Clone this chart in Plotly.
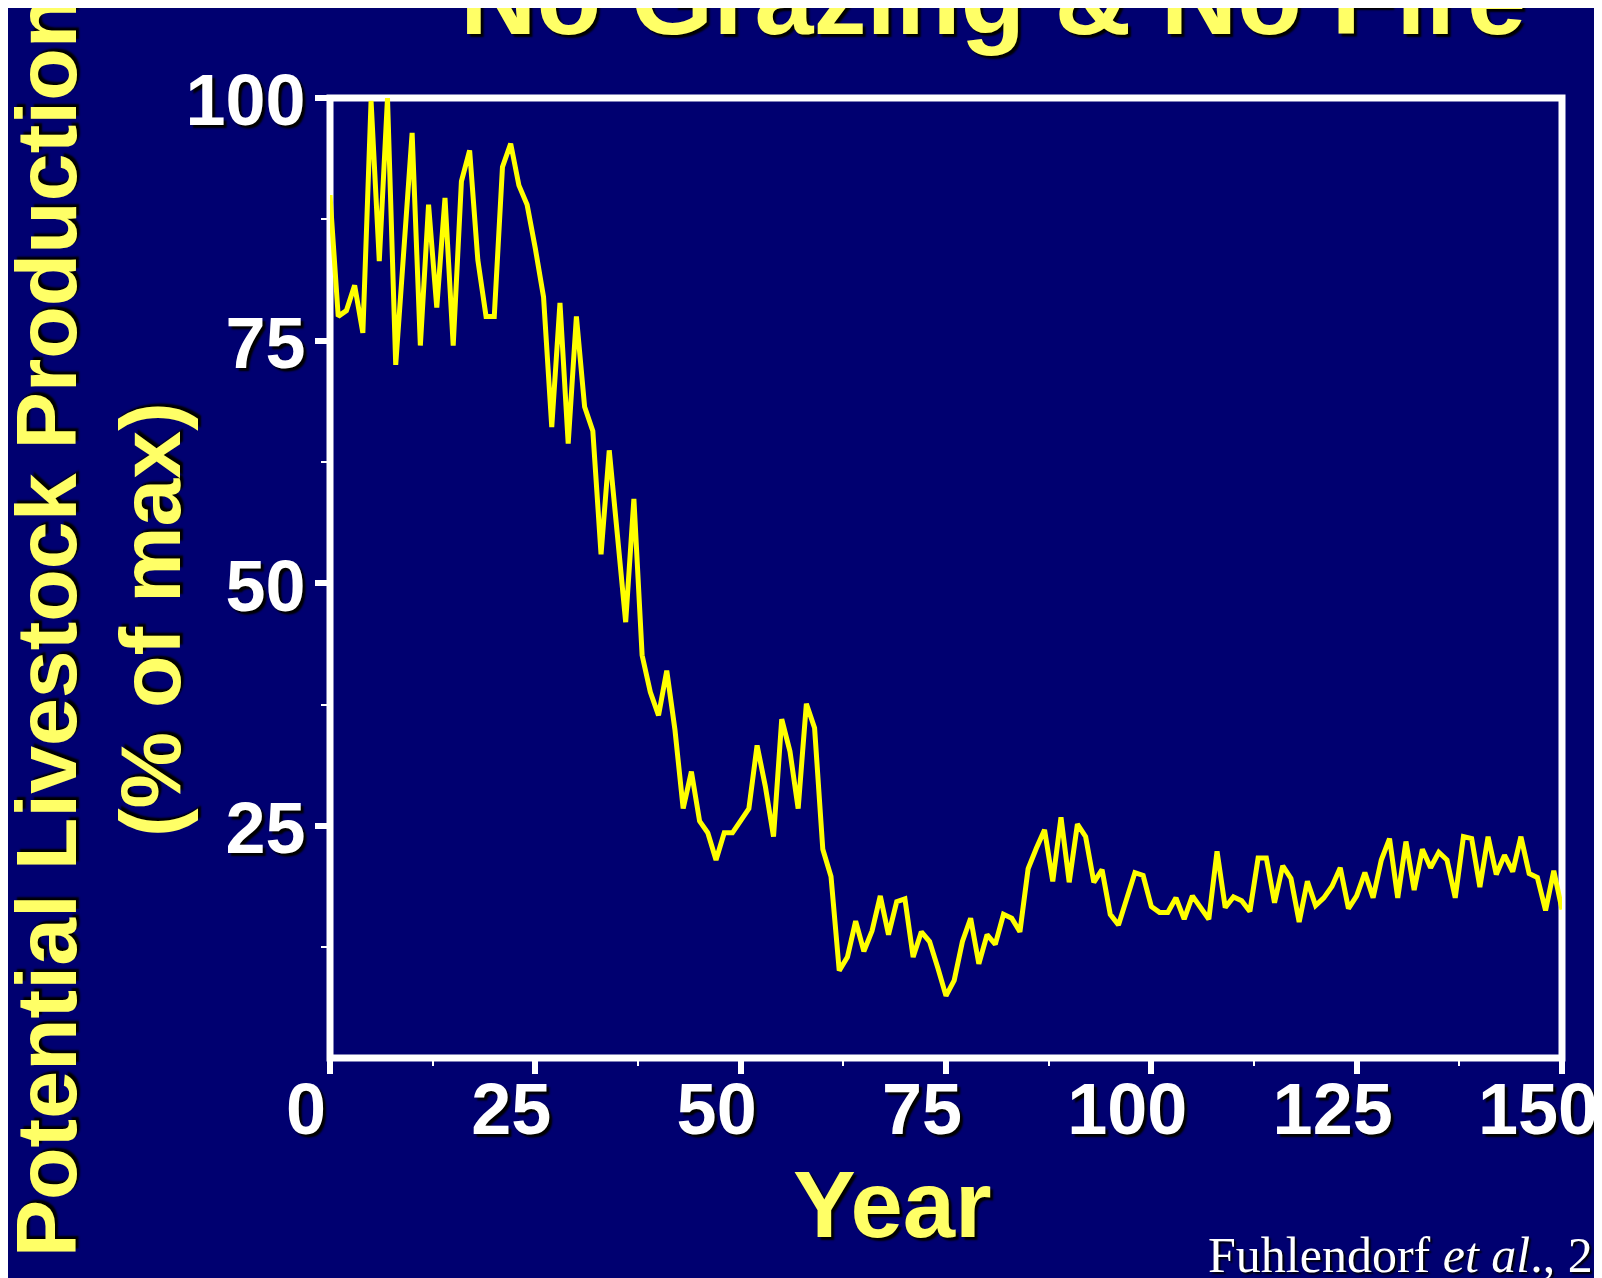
import plotly.graph_objects as go

years = list(range(0, 151))
production = [
    90.0, 77.5, 78.1, 80.7, 75.8, 99.7, 83.2, 100.0, 72.5, 84.5,
    96.4, 74.5, 89.0, 78.4, 89.7, 74.5, 91.4, 94.6, 83.3, 77.5,
    77.5, 92.9, 95.3, 91.0, 89.0, 84.5, 79.5, 66.1, 78.9, 64.4,
    77.5, 68.2, 65.7, 53.0, 63.7, 54.9, 46.0, 58.7, 42.6, 38.8,
    36.4, 41.0, 34.9, 26.8, 30.6, 25.5, 24.3, 21.5, 24.3, 24.3,
    25.5, 26.8, 33.3, 29.1, 23.9, 36.0, 32.7, 26.8, 37.6, 35.1,
    22.6, 19.8, 10.1, 11.5, 15.2, 12.1, 14.2, 17.8, 13.8, 17.2,
    17.5, 11.5, 14.1, 13.1, 10.4, 7.5, 9.1, 13.1, 15.5, 10.8,
    13.8, 12.8, 15.9, 15.5, 14.1, 20.6, 22.7, 24.6, 19.3, 25.9,
    19.2, 25.2, 23.9, 19.2, 20.5, 15.9, 14.8, 17.7, 20.2, 19.9,
    16.7, 16.1, 16.1, 17.6, 15.4, 17.8, 16.6, 15.4, 22.4, 16.6,
    17.7, 17.3, 16.2, 21.7, 21.7, 17.1, 20.9, 19.6, 15.1, 19.3,
    16.8, 17.6, 18.8, 20.7, 16.5, 17.8, 20.2, 17.6, 21.5, 23.7,
    17.6, 23.4, 18.4, 22.6, 20.7, 22.3, 21.5, 17.6, 23.9, 23.7,
    18.7, 23.9, 20.0, 22.0, 20.3, 23.9, 20.1, 19.7, 16.3, 20.4,
    16.4,
]
x_ticks = [0, 25, 50, 75, 100, 125, 150]
y_ticks = [25, 50, 75, 100]

title_text = "No Grazing &amp; No Fire"
ytitle_line1 = "Potential Livestock Production"
ytitle_line2 = "(% of max)"
xtitle_text = "Year"
source_text = "Fuhlendorf <i>et al</i>., 2009"

BG = "#000070"
YEL = "#FFFF66"
SHADOW = "3px 3px 2px #000000"
SANS = "Liberation Sans, Arial, sans-serif"

fig = go.Figure()
fig.add_trace(go.Scatter(
    x=years, y=production, mode="lines",
    line=dict(color="#FFFF00", width=5),
    hoverinfo="skip", showlegend=False,
))

tickfont = dict(family=SANS, size=72, color="white", weight="bold", shadow=SHADOW)

fig.update_xaxes(
    range=[0, 150], tickvals=x_ticks, ticktext=[str(v) for v in x_ticks],
    showgrid=False, zeroline=False, showline=False,
    ticks="outside", ticklen=15, tickwidth=6, tickcolor="white",
    minor=dict(dtick=12.5, tick0=0, ticks="outside", ticklen=7,
               tickwidth=2, tickcolor="white", showgrid=False),
    tickfont=tickfont, ticklabelshift=-24, ticklabelstandoff=-26,
)
fig.update_yaxes(
    range=[1.1, 100], tickvals=y_ticks, ticktext=[str(v) for v in y_ticks],
    showgrid=False, zeroline=False, showline=False,
    ticks="outside", ticklen=14, tickwidth=6, tickcolor="white",
    minor=dict(dtick=12.5, tick0=0, ticks="outside", ticklen=8,
               tickwidth=2, tickcolor="white", showgrid=False),
    tickfont=tickfont, ticklabelshift=2, ticklabelstandoff=-5,
)

fig.add_shape(type="rect", xref="paper", yref="paper", x0=0, x1=1, y0=0, y1=1,
              line=dict(color="white", width=7), layer="below")

fig.add_annotation(text=title_text, xref="paper", yref="paper",
                   x=0.5385, y=1.0417, xanchor="center", yanchor="bottom",
                   showarrow=False,
                   font=dict(family=SANS, size=106, color=YEL, weight="bold", shadow=SHADOW))
fig.add_annotation(text=ytitle_line1, xref="paper", yref="paper",
                   x=-0.2303, y=0.450, xanchor="center", yanchor="middle",
                   textangle=-90, showarrow=False,
                   font=dict(family=SANS, size=86, color=YEL, weight="bold", shadow=SHADOW))
fig.add_annotation(text=ytitle_line2, xref="paper", yref="paper",
                   x=-0.1455, y=0.457, xanchor="center", yanchor="middle",
                   textangle=-90, showarrow=False,
                   font=dict(family=SANS, size=86, color=YEL, weight="bold", shadow=SHADOW))
fig.add_annotation(text=xtitle_text, xref="paper", yref="paper",
                   x=0.4568, y=-0.0958, xanchor="center", yanchor="top",
                   showarrow=False,
                   font=dict(family=SANS, size=94, color=YEL, weight="bold", shadow=SHADOW))
fig.add_annotation(text=source_text, xref="paper", yref="paper",
                   x=0.7107, y=-0.2365, xanchor="left", yanchor="bottom",
                   showarrow=False,
                   font=dict(family="Liberation Serif, Times New Roman, serif", size=50,
                             color="white", shadow="2px 2px 2px #000000"))

fig.update_layout(
    width=1602, height=1278,
    paper_bgcolor=BG, plot_bgcolor=BG,
    margin=dict(l=322, r=43, t=90, b=228, pad=0),
    showlegend=False,
)

fig.write_html("out.html")
